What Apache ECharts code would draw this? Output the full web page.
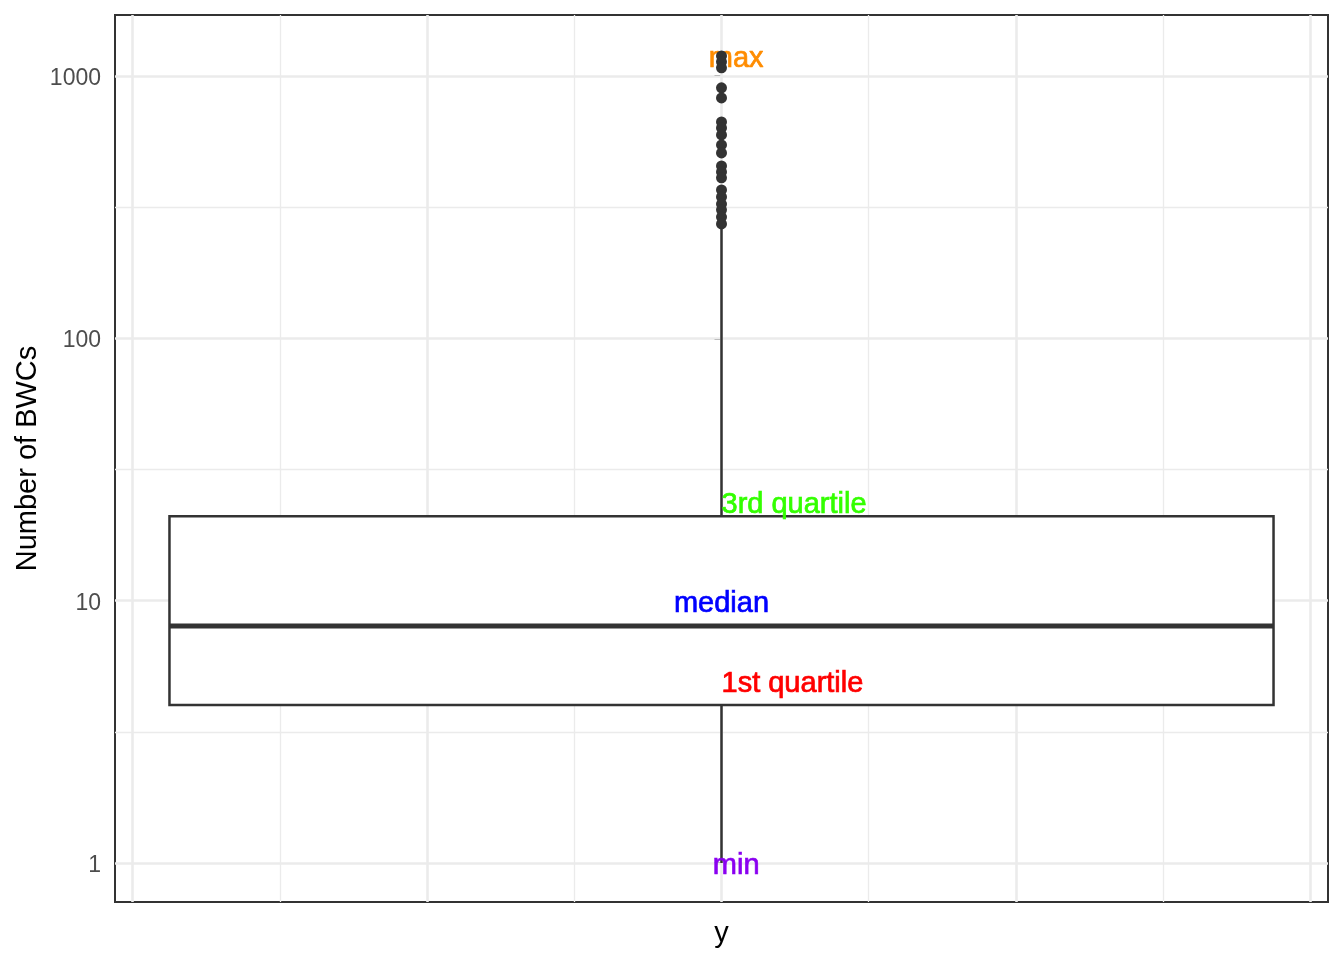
<!DOCTYPE html>
<html>
<head>
<meta charset="utf-8">
<script src="https://cdn.jsdelivr.net/npm/echarts@6/dist/echarts.min.js"></script>
<style>html,body{margin:0;padding:0;background:#fff}#chart{width:1344px;height:960px}</style>
</head>
<body>
<div id="chart"></div>
<script>
// ---- data ----
const categories = ['y'];
const boxStatNames = ['lowerWhisker', 'q1', 'median', 'q3', 'upperWhisker'];
const boxStatValues = [1, 4, 8, 21, 262];
const outlierValues = [1193, 1132, 1074, 901, 825, 668, 634, 596, 546, 509, 454, 431, 409, 368, 346, 325, 309, 290, 273];
const yTickValues = [1, 10, 100, 1000];
const yMinorGridValues = [3.1623, 31.623, 316.23];
const xMajorGrid = [-0.4, -0.2, 0, 0.2, 0.4];
const xMinorGrid = [-0.3, -0.1, 0.1, 0.3];
const labelTexts = ['max', '3rd quartile', 'median', '1st quartile', 'min'];
const labelYValues = [1193, 23.8, 10, 4.95, 1];
const labelXValues = [0.01, 0, 0, 0, 0.01];
const labelAligns = ['center', 'left', 'center', 'left', 'center'];
const labelColors = ['#FF8C00', '#33FF00', '#0000FF', '#FF0000', '#8A00F0'];

// ---- helpers / layout ----
const L = v => Math.log10(v);
const Y_MIN = -0.1487, Y_MAX = 3.2325;
const X_MIN = -0.412, X_MAX = 0.412;
const BOX_HALF = 0.375;
const FONT = "'Liberation Sans', Arial, Helvetica, sans-serif";

const chart = echarts.init(document.getElementById('chart'), null, {renderer: 'canvas'});

const gridMarkLines = []
  .concat(yTickValues.map(v => ({yAxis: L(v), lineStyle: {width: 2.6}})))
  .concat(yMinorGridValues.map(v => ({yAxis: L(v), lineStyle: {width: 1.3}})))
  .concat(xMajorGrid.map(v => ({xAxis: v, lineStyle: {width: 2.6}})))
  .concat(xMinorGrid.map(v => ({xAxis: v, lineStyle: {width: 1.3}})));

const option = {
  animation: false,
  backgroundColor: '#fff',
  textStyle: {fontFamily: FONT},
  grid: {left: 115, top: 15, width: 1213, height: 887, show: true,
         backgroundColor: '#fff', borderColor: '#333', borderWidth: 2},
  xAxis: {
    type: 'value', min: X_MIN, max: X_MAX,
    axisLine: {show: false}, axisTick: {show: false}, axisLabel: {show: false}, splitLine: {show: false},
    name: categories[0], nameLocation: 'middle', nameGap: 17,
    nameTextStyle: {fontSize: 29, color: '#000', fontFamily: FONT}
  },
  yAxis: {
    type: 'value', min: Y_MIN, max: Y_MAX,
    axisLine: {show: false},
    splitLine: {show: false},
    axisTick: {show: true, customValues: yTickValues.map(L), length: 7, lineStyle: {color: '#333', width: 2}},
    axisLabel: {show: true, customValues: yTickValues.map(L), margin: 14, fontSize: 23, color: '#4D4D4D',
                fontFamily: FONT,
                formatter: v => '{t|' + String(Math.round(Math.pow(10, v))) + '}',
                rich: {t: {fontSize: 23, color: '#4D4D4D', fontFamily: FONT, padding: [5, 0, 0, 0]}}},
    name: 'Number of BWCs', nameLocation: 'middle', nameGap: 73, nameMoveOverlap: false,
    nameTextStyle: {fontSize: 29, color: '#000', fontFamily: FONT}
  },
  series: [
    {
      type: 'scatter', data: [], z: 1, silent: true,
      markLine: {silent: true, z: 1, symbol: ['none', 'none'], label: {show: false}, animation: false,
                 lineStyle: {color: '#EBEBEB', type: 'solid'}, data: gridMarkLines}
    },
    {
      type: 'custom', z: 6, silent: true,
      data: [[0].concat(boxStatValues.map(L))],
      encode: {x: 0, y: [1, 2, 3, 4, 5]},
      renderItem: function (params, api) {
        const x = api.value(0);
        const lo = api.value(1), q1 = api.value(2), med = api.value(3), q3 = api.value(4), hi = api.value(5);
        const tl = api.coord([x - BOX_HALF, q3]);
        const br = api.coord([x + BOX_HALF, q1]);
        const pLo = api.coord([x, lo]), pQ1 = api.coord([x, q1]), pQ3 = api.coord([x, q3]), pHi = api.coord([x, hi]);
        const mL = api.coord([x - BOX_HALF, med]), mR = api.coord([x + BOX_HALF, med]);
        const ls = {stroke: '#333', lineWidth: 2.5};
        return {type: 'group', children: [
          {type: 'line', shape: {x1: pLo[0], y1: pLo[1], x2: pQ1[0], y2: pQ1[1]}, style: ls},
          {type: 'line', shape: {x1: pQ3[0], y1: pQ3[1], x2: pHi[0], y2: pHi[1]}, style: ls},
          {type: 'rect', shape: {x: tl[0], y: tl[1], width: br[0] - tl[0], height: br[1] - tl[1]},
           style: {fill: '#fff', stroke: '#333', lineWidth: 2.5}},
          {type: 'line', shape: {x1: mL[0], y1: mL[1], x2: mR[0], y2: mR[1]}, style: {stroke: '#333', lineWidth: 5}}
        ]};
      }
    },
    {
      type: 'custom', z: 7, silent: true,
      data: labelTexts.map((t, i) => [labelXValues[i], L(labelYValues[i]), i]),
      encode: {x: 0, y: 1},
      renderItem: function (params, api) {
        const i = api.value(2);
        const p = api.coord([api.value(0), api.value(1)]);
        return {type: 'text', x: p[0], y: p[1] + 3, style: {
          text: labelTexts[i], fill: labelColors[i], font: '29px ' + FONT,
          stroke: labelColors[i], lineWidth: 0.7,
          align: labelAligns[i], verticalAlign: 'middle'}};
      }
    },
    {
      type: 'scatter', z: 8, silent: true,
      data: outlierValues.map(v => [0, L(v)]),
      symbol: 'circle', symbolSize: 11,
      itemStyle: {color: '#333', opacity: 1}
    }
  ]
};
chart.setOption(option);
</script>
</body>
</html>
